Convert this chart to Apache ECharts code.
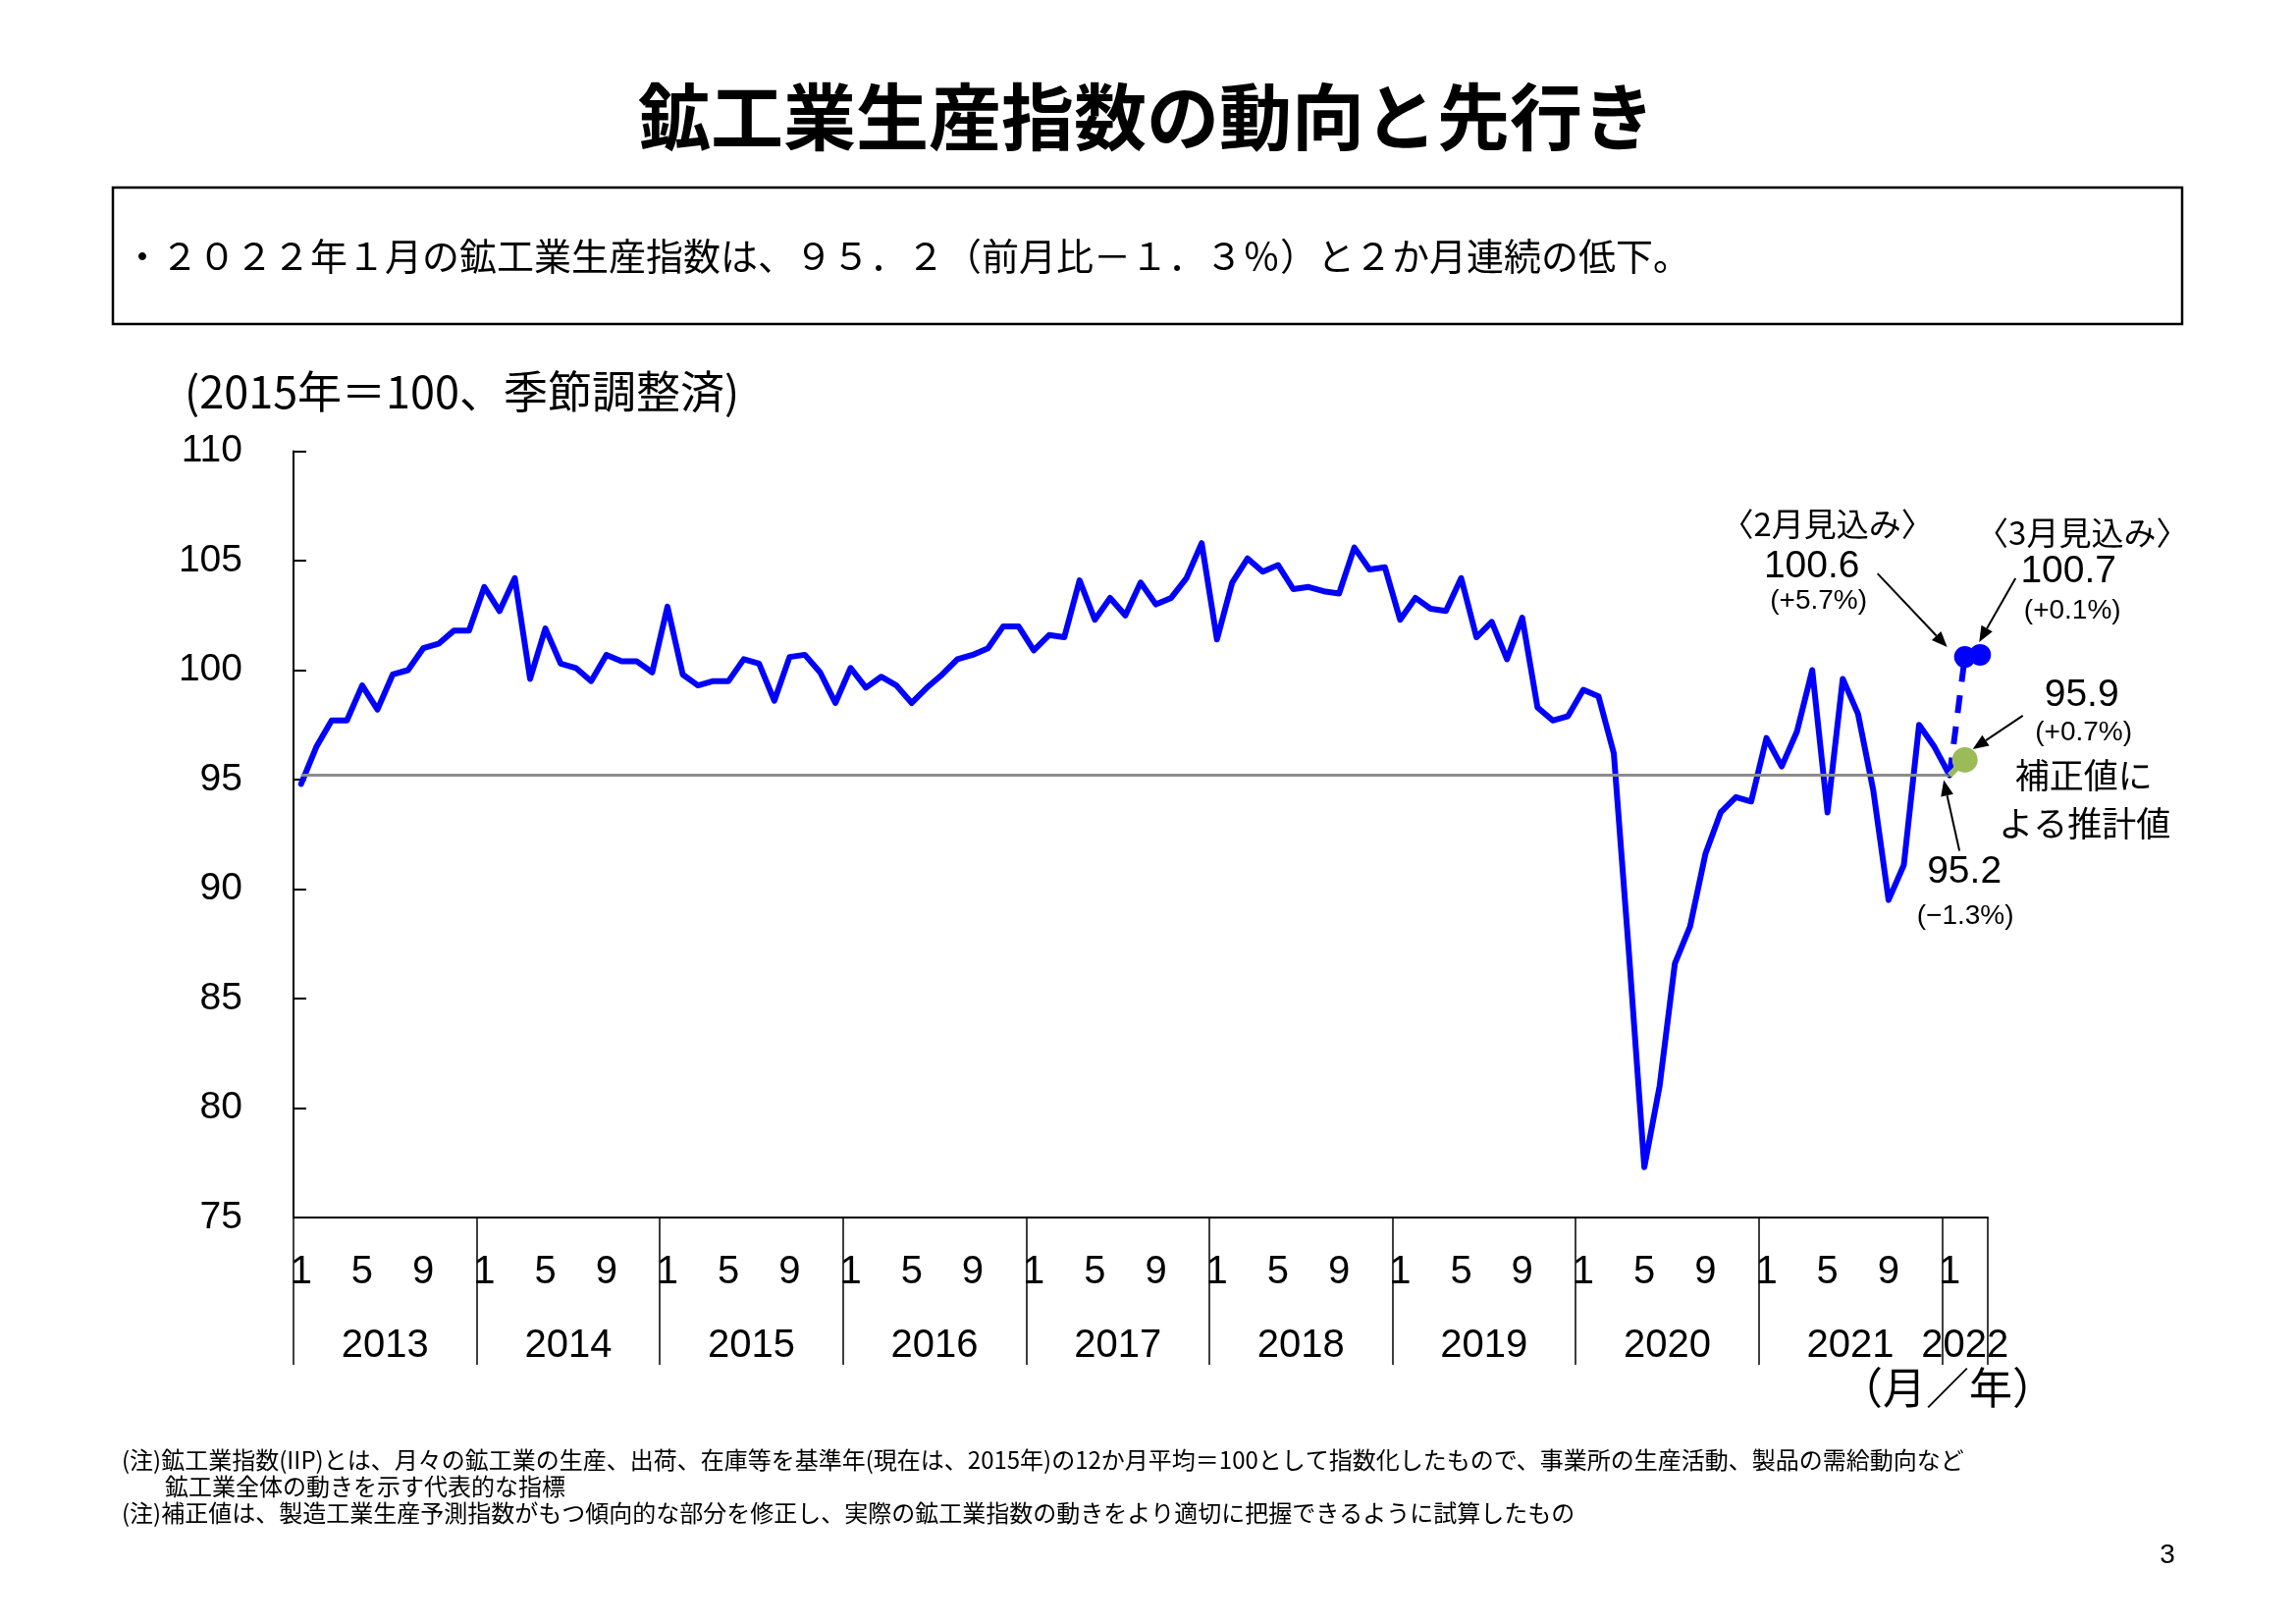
<!DOCTYPE html>
<html>
<head>
<meta charset="utf-8">
<script src="https://cdn.jsdelivr.net/npm/echarts@6/dist/echarts.min.js"></script>
<style>
html,body{margin:0;padding:0;background:#ffffff;}
#chart{width:2339px;height:1654px;}
</style>
</head>
<body>
<div id="chart"></div>
<script>
// ---------------- DATA ----------------
const years = [2013, 2014, 2015, 2016, 2017, 2018, 2019, 2020, 2021, 2022];
const monthsOf2022 = [1, 2, 3];
const monthTickLabels = [1, 5, 9];
const yearLabels = ['2013', '2014', '2015', '2016', '2017', '2018', '2019', '2020', '2021', '2022'];

const iip2013 = [94.8, 96.5, 97.7, 97.7, 99.3, 98.2, 99.8, 100.0, 101.0, 101.2, 101.8, 101.8];
const iip2014 = [103.8, 102.7, 104.2, 99.6, 101.9, 100.3, 100.1, 99.5, 100.7, 100.4, 100.4, 99.9];
const iip2015 = [102.9, 99.8, 99.3, 99.5, 99.5, 100.5, 100.3, 98.6, 100.6, 100.7, 99.9, 98.5];
const iip2016 = [100.1, 99.2, 99.7, 99.3, 98.5, 99.2, 99.8, 100.5, 100.7, 101.0, 102.0, 102.0];
const iip2017 = [100.9, 101.6, 101.5, 104.1, 102.3, 103.3, 102.5, 104.0, 103.0, 103.3, 104.2, 105.8];
const iip2018 = [101.4, 104.0, 105.1, 104.5, 104.8, 103.7, 103.8, 103.6, 103.5, 105.6, 104.6, 104.7];
const iip2019 = [102.3, 103.3, 102.8, 102.7, 104.2, 101.5, 102.2, 100.5, 102.4, 98.3, 97.7, 97.9];
const iip2020 = [99.1, 98.8, 96.2, 87.0, 77.3, 81.0, 86.6, 88.3, 91.6, 93.5, 94.2, 94.0];
const iip2021 = [96.9, 95.6, 97.2, 100.0, 93.5, 99.6, 98.0, 94.5, 89.5, 91.1, 97.5, 96.5];
const iip2022 = [95.2];

const forecastFeb = 100.6;   // <2月見込み>
const forecastMar = 100.7;   // <3月見込み>
const correctedFeb = 95.9;   // 補正値による推計値

const yTicks = [75, 80, 85, 90, 95, 100, 105, 110];

// ---------------- BUILD ----------------
const actual = [].concat(iip2013, iip2014, iip2015, iip2016, iip2017, iip2018, iip2019, iip2020, iip2021, iip2022);
const categories = [];
years.forEach(function (y) {
  const ms = (y === 2022) ? monthsOf2022 : [1,2,3,4,5,6,7,8,9,10,11,12];
  ms.forEach(function (m) { categories.push(y + '-' + m); });
});
const nCat = categories.length;           // 111
const lastIdx = actual.length - 1;        // 108 (2022-1)
const latest = actual[lastIdx];

const forecastSeries = [];
const correctedSeries = [];
for (let i = 0; i < lastIdx; i++) { forecastSeries.push('-'); correctedSeries.push('-'); }
forecastSeries.push({ value: latest, symbol: 'none' });
forecastSeries.push(forecastFeb);
forecastSeries.push(forecastMar);
correctedSeries.push({ value: latest, symbol: 'none' });
correctedSeries.push(correctedFeb);

const CJK = "'Noto Sans CJK JP', 'Noto Sans', sans-serif";
const LAT = "'Liberation Sans', Arial, sans-serif";

const chart = echarts.init(document.getElementById('chart'), null, { renderer: 'canvas' });

const option = {
  animation: false,
  backgroundColor: '#ffffff',
  grid: { left: 299, right: 314, top: 459.5, bottom: 414, containLabel: false },
  xAxis: [
    {
      type: 'category',
      data: categories,
      boundaryGap: true,
      position: 'bottom',
      axisLine: { show: true, onZero: false, lineStyle: { color: '#000', width: 2 } },
      axisTick: {
        show: true, inside: false, length: 150,
        interval: function (idx) { return idx % 12 === 0; },
        lineStyle: { color: '#000', width: 1.5 }
      },
      axisLabel: {
        show: true, interval: 0, margin: 36,
        fontFamily: LAT, fontSize: 40, lineHeight: 40, color: '#000',
        formatter: function (val) {
          const m = parseInt(val.split('-')[1], 10);
          return monthTickLabels.indexOf(m) >= 0 ? String(m) : '';
        }
      },
      splitLine: { show: false }
    },
    {
      type: 'value',
      position: 'bottom',
      min: 0, max: nCat, interval: 1.5,
      axisLine: { show: false },
      axisTick: { show: false },
      splitLine: { show: false },
      axisLabel: {
        show: true, margin: 111, showMinLabel: true, showMaxLabel: true,
        fontFamily: LAT, fontSize: 40, lineHeight: 40, color: '#000',
        formatter: function (v) {
          for (let k = 0; k < years.length; k++) {
            const start = k * 12;
            const len = (years[k] === 2022) ? monthsOf2022.length : 12;
            if (Math.abs(v - (start + len / 2)) < 1e-6) return yearLabels[k];
          }
          return '';
        }
      }
    }
  ],
  yAxis: {
    type: 'value',
    min: yTicks[0], max: yTicks[yTicks.length - 1], interval: 5,
    axisLine: { show: true, lineStyle: { color: '#000', width: 2 } },
    axisTick: { show: true, inside: true, length: 13, lineStyle: { color: '#000', width: 2 } },
    axisLabel: { margin: 52, fontFamily: LAT, fontSize: 39, color: '#000' },
    splitLine: { show: false }
  },
  series: [
    {
      name: '鉱工業生産指数',
      type: 'line',
      xAxisIndex: 0, yAxisIndex: 0,
      data: actual,
      showSymbol: false,
      symbol: 'none',
      lineStyle: { color: '#0000FF', width: 6, join: 'round', cap: 'round' },
      itemStyle: { color: '#0000FF' },
      z: 3,
      markLine: {
        silent: true,
        symbol: ['none', 'none'],
        label: { show: false },
        z: 4,
        lineStyle: { color: '#8c8c8c', width: 3, type: 'solid' },
        data: [[ { coord: [categories[0], latest] }, { coord: [categories[lastIdx], latest] } ]]
      }
    },
    {
      name: '見込み',
      type: 'line',
      xAxisIndex: 0, yAxisIndex: 0,
      data: forecastSeries,
      symbol: 'circle',
      symbolSize: 22,
      showSymbol: true,
      lineStyle: { color: '#0000FF', width: 6, type: [18, 14] },
      itemStyle: { color: '#0000FF' },
      z: 5
    },
    {
      name: '補正値',
      type: 'line',
      xAxisIndex: 0, yAxisIndex: 0,
      data: correctedSeries,
      symbol: 'circle',
      symbolSize: 26,
      showSymbol: true,
      lineStyle: { color: '#9BBB59', width: 6 },
      itemStyle: { color: '#9BBB59' },
      z: 6
    }
  ]
};
chart.setOption(option);

// ---------------- ANNOTATIONS (anchored to data points) ----------------
function px(idx, val) { return chart.convertToPixel({ xAxisIndex: 0, yAxisIndex: 0 }, [idx, val]); }
const pJan = px(lastIdx, latest);
const pFeb = px(lastIdx + 1, forecastFeb);
const pMar = px(lastIdx + 2, forecastMar);
const pCor = px(lastIdx + 1, correctedFeb);

function txt(x, y, text, size, family, align, weight) {
  return {
    type: 'text', x: x, y: y, silent: true,
    style: {
      text: text, fill: '#000', fontSize: size, fontFamily: family,
      fontWeight: weight || 'normal',
      textAlign: align || 'center', textVerticalAlign: 'middle'
    }
  };
}
function arrow(x1, y1, x2, y2) {
  const dx = x2 - x1, dy = y2 - y1;
  const L = Math.sqrt(dx * dx + dy * dy);
  const ux = dx / L, uy = dy / L;
  const hl = 16, hw = 6.5;
  const bx = x2 - ux * hl, by = y2 - uy * hl;
  return [
    { type: 'line', silent: true, shape: { x1: x1, y1: y1, x2: bx, y2: by }, style: { stroke: '#000', lineWidth: 2 } },
    { type: 'polygon', silent: true, shape: { points: [[x2, y2], [bx - uy * hw, by + ux * hw], [bx + uy * hw, by - ux * hw]] }, style: { fill: '#000' } }
  ];
}

let g = [];
// title & box
g.push(txt(1168, 119, '鉱工業生産指数の動向と先行き', 74, CJK, 'center', 'bold'));
g.push({ type: 'rect', silent: true, shape: { x: 115, y: 191, width: 2108, height: 139 }, style: { fill: 'none', stroke: '#000', lineWidth: 2.5 } });
g.push(txt(126, 261, '・２０２２年１月の鉱工業生産指数は、９５．２（前月比－１．３％）と２か月連続の低下。', 38, CJK, 'left'));
g.push(txt(188, 399, '(2015年＝100、季節調整済)', 45, CJK, 'left'));
g.push(txt(1984, 1413, '（月／年）', 44, CJK));

// forecast Feb
g.push(txt(pFeb[0] - 140, pFeb[1] - 136, '〈2月見込み〉', 33, CJK));
g.push(txt(pFeb[0] - 156, pFeb[1] - 92, '100.6', 39, LAT));
g.push(txt(pFeb[0] - 149, pFeb[1] - 57, '(+5.7%)', 28, LAT));
g = g.concat(arrow(pFeb[0] - 89, pFeb[1] - 85, pFeb[0] - 18, pFeb[1] - 10));
// forecast Mar
g.push(txt(pMar[0] + 104, pMar[1] - 124, '〈3月見込み〉', 33, CJK));
g.push(txt(pMar[0] + 90, pMar[1] - 85, '100.7', 39, LAT));
g.push(txt(pMar[0] + 94, pMar[1] - 45, '(+0.1%)', 28, LAT));
g = g.concat(arrow(pMar[0] + 36, pMar[1] - 78, pMar[0] - 1, pMar[1] - 13));
// corrected
g.push(txt(pCor[0] + 119, pCor[1] - 66, '95.9', 39, LAT));
g.push(txt(pCor[0] + 121, pCor[1] - 28, '(+0.7%)', 28, LAT));
g.push(txt(pCor[0] + 121, pCor[1] + 16, '補正値に', 35, CJK));
g.push(txt(pCor[0] + 122, pCor[1] + 65, 'よる推計値', 35, CJK));
g = g.concat(arrow(pCor[0] + 59, pCor[1] - 45, pCor[0] + 8, pCor[1] - 11));
// latest actual
g.push(txt(pJan[0] + 15, pJan[1] + 99, '95.2', 39, LAT));
g.push(txt(pJan[0] + 16, pJan[1] + 144, '(−1.3%)', 28, LAT));
g = g.concat(arrow(pJan[0] + 10, pJan[1] + 77, pJan[0] - 6, pJan[1] + 5));

// notes
g.push(txt(124, 1487, '(注)鉱工業指数(IIP)とは、月々の鉱工業の生産、出荷、在庫等を基準年(現在は、2015年)の12か月平均＝100として指数化したもので、事業所の生産活動、製品の需給動向など', 24, CJK, 'left'));
g.push(txt(168, 1514, '鉱工業全体の動きを示す代表的な指標', 24, CJK, 'left'));
g.push(txt(124, 1541, '(注)補正値は、製造工業生産予測指数がもつ傾向的な部分を修正し、実際の鉱工業指数の動きをより適切に把握できるように試算したもの', 24, CJK, 'left'));
g.push(txt(2208, 1584, '3', 28, LAT));

chart.setOption({ graphic: { elements: g } });
</script>
</body>
</html>
